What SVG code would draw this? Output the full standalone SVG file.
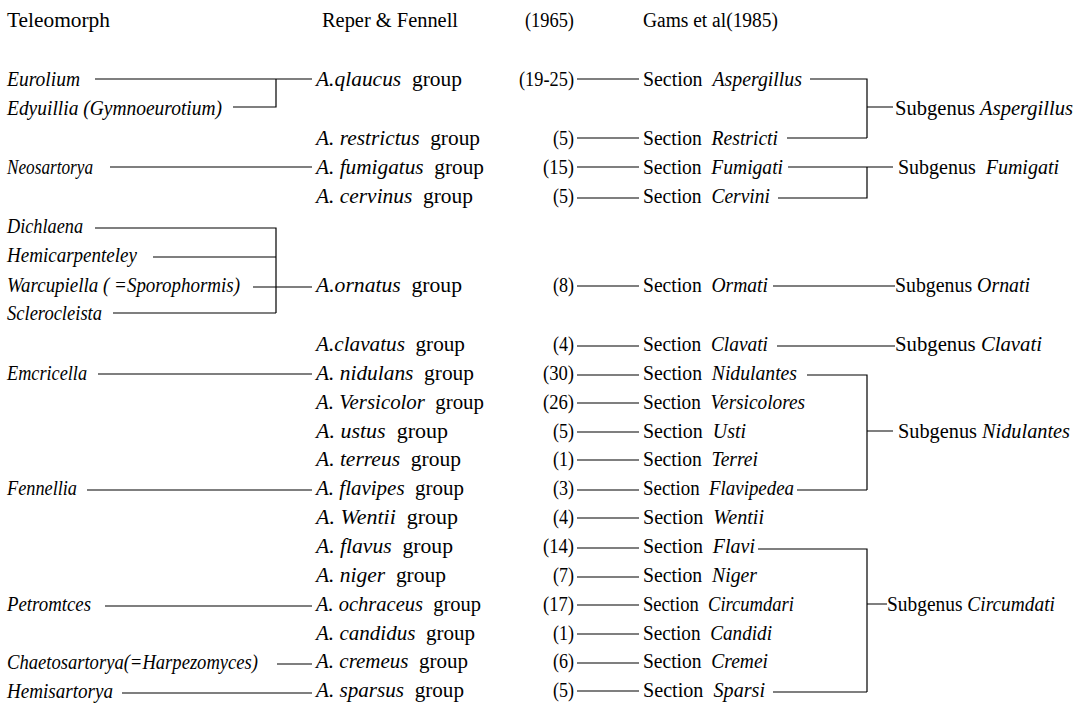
<svg xmlns="http://www.w3.org/2000/svg" width="1084" height="706" viewBox="0 0 1084 706">
<style>
text { font-family: "Liberation Serif", "Times New Roman", serif; font-size: 20px; fill: #000; }
.i { font-style: italic; }
.e { text-anchor: end; }
.conn path { stroke: #000; stroke-width: 1.2; fill: none; }
</style>
<rect width="1084" height="706" fill="#fff"/>

<g id="headers">
  <text x="7" y="27" textLength="103" lengthAdjust="spacingAndGlyphs">Teleomorph</text>
  <text x="322" y="27" textLength="136" lengthAdjust="spacingAndGlyphs">Reper &amp; Fennell</text>
  <text class="e" x="574" y="27" textLength="49" lengthAdjust="spacingAndGlyphs">(1965)</text>
  <text x="643" y="27" textLength="135" lengthAdjust="spacingAndGlyphs">Gams et al(1985)</text>
</g>

<g id="teleomorphs">
  <g id="t-eurolium"><text class="i" x="7" y="86" textLength="73" lengthAdjust="spacingAndGlyphs">Eurolium</text></g>
  <g id="t-edyuillia"><text class="i" x="7" y="115" textLength="215" lengthAdjust="spacingAndGlyphs">Edyuillia (Gymnoeurotium)</text></g>
  <g id="t-neosartorya"><text class="i" x="7" y="174" textLength="86" lengthAdjust="spacingAndGlyphs">Neosartorya</text></g>
  <g id="t-dichlaena"><text class="i" x="7" y="233" textLength="76" lengthAdjust="spacingAndGlyphs">Dichlaena</text></g>
  <g id="t-hemicarpenteley"><text class="i" x="7" y="262" textLength="130" lengthAdjust="spacingAndGlyphs">Hemicarpenteley</text></g>
  <g id="t-warcupiella"><text class="i" x="7" y="292" textLength="233" lengthAdjust="spacingAndGlyphs">Warcupiella ( =Sporophormis)</text></g>
  <g id="t-sclerocleista"><text class="i" x="7" y="320" textLength="95" lengthAdjust="spacingAndGlyphs">Sclerocleista</text></g>
  <g id="t-emcricella"><text class="i" x="7" y="380" textLength="80" lengthAdjust="spacingAndGlyphs">Emcricella</text></g>
  <g id="t-fennellia"><text class="i" x="7" y="495" textLength="70" lengthAdjust="spacingAndGlyphs">Fennellia</text></g>
  <g id="t-petromtces"><text class="i" x="7" y="611" textLength="84" lengthAdjust="spacingAndGlyphs">Petromtces</text></g>
  <g id="t-chaetosartorya"><text class="i" x="7" y="669" textLength="251" lengthAdjust="spacingAndGlyphs">Chaetosartorya(=Harpezomyces)</text></g>
  <g id="t-hemisartorya"><text class="i" x="7" y="698" textLength="106" lengthAdjust="spacingAndGlyphs">Hemisartorya</text></g>
</g>

<g id="groups">
  <g id="g-glaucus"><text x="316" y="86" textLength="146" lengthAdjust="spacingAndGlyphs"><tspan class="i">A.qlaucus</tspan>&#160; group</text></g>
  <g id="g-restrictus"><text x="316" y="145" textLength="164" lengthAdjust="spacingAndGlyphs"><tspan class="i">A. restrictus</tspan>&#160; group</text></g>
  <g id="g-fumigatus"><text x="316" y="174" textLength="168" lengthAdjust="spacingAndGlyphs"><tspan class="i">A. fumigatus</tspan>&#160; group</text></g>
  <g id="g-cervinus"><text x="316" y="203" textLength="157" lengthAdjust="spacingAndGlyphs"><tspan class="i">A. cervinus</tspan>&#160; group</text></g>
  <g id="g-ornatus"><text x="316" y="292" textLength="146" lengthAdjust="spacingAndGlyphs"><tspan class="i">A.ornatus</tspan>&#160; group</text></g>
  <g id="g-clavatus"><text x="316" y="351" textLength="149" lengthAdjust="spacingAndGlyphs"><tspan class="i">A.clavatus</tspan>&#160; group</text></g>
  <g id="g-nidulans"><text x="316" y="380" textLength="158" lengthAdjust="spacingAndGlyphs"><tspan class="i">A. nidulans</tspan>&#160; group</text></g>
  <g id="g-versicolor"><text x="316" y="409" textLength="168" lengthAdjust="spacingAndGlyphs"><tspan class="i">A. Versicolor</tspan>&#160; group</text></g>
  <g id="g-ustus"><text x="316" y="438" textLength="132" lengthAdjust="spacingAndGlyphs"><tspan class="i">A. ustus</tspan>&#160; group</text></g>
  <g id="g-terreus"><text x="316" y="466" textLength="145" lengthAdjust="spacingAndGlyphs"><tspan class="i">A. terreus</tspan>&#160; group</text></g>
  <g id="g-flavipes"><text x="316" y="495" textLength="148" lengthAdjust="spacingAndGlyphs"><tspan class="i">A. flavipes</tspan>&#160; group</text></g>
  <g id="g-wentii"><text x="316" y="524" textLength="142" lengthAdjust="spacingAndGlyphs"><tspan class="i">A. Wentii</tspan>&#160; group</text></g>
  <g id="g-flavus"><text x="316" y="553" textLength="137" lengthAdjust="spacingAndGlyphs"><tspan class="i">A. flavus</tspan>&#160; group</text></g>
  <g id="g-niger"><text x="316" y="582" textLength="130" lengthAdjust="spacingAndGlyphs"><tspan class="i">A. niger</tspan>&#160; group</text></g>
  <g id="g-ochraceus"><text x="316" y="611" textLength="165" lengthAdjust="spacingAndGlyphs"><tspan class="i">A. ochraceus</tspan>&#160; group</text></g>
  <g id="g-candidus"><text x="316" y="640" textLength="159" lengthAdjust="spacingAndGlyphs"><tspan class="i">A. candidus</tspan>&#160; group</text></g>
  <g id="g-cremeus"><text x="316" y="668" textLength="152" lengthAdjust="spacingAndGlyphs"><tspan class="i">A. cremeus</tspan>&#160; group</text></g>
  <g id="g-sparsus"><text x="316" y="697" textLength="148" lengthAdjust="spacingAndGlyphs"><tspan class="i">A. sparsus</tspan>&#160; group</text></g>
</g>

<g id="counts">
  <text class="e" x="574" y="86" textLength="55" lengthAdjust="spacingAndGlyphs">(19-25)</text>
  <text class="e" x="574" y="145" textLength="21" lengthAdjust="spacingAndGlyphs">(5)</text>
  <text class="e" x="574" y="174" textLength="31" lengthAdjust="spacingAndGlyphs">(15)</text>
  <text class="e" x="574" y="203" textLength="21" lengthAdjust="spacingAndGlyphs">(5)</text>
  <text class="e" x="574" y="292" textLength="21" lengthAdjust="spacingAndGlyphs">(8)</text>
  <text class="e" x="574" y="351" textLength="21" lengthAdjust="spacingAndGlyphs">(4)</text>
  <text class="e" x="574" y="380" textLength="31" lengthAdjust="spacingAndGlyphs">(30)</text>
  <text class="e" x="574" y="409" textLength="31" lengthAdjust="spacingAndGlyphs">(26)</text>
  <text class="e" x="574" y="438" textLength="21" lengthAdjust="spacingAndGlyphs">(5)</text>
  <text class="e" x="574" y="466" textLength="21" lengthAdjust="spacingAndGlyphs">(1)</text>
  <text class="e" x="574" y="495" textLength="21" lengthAdjust="spacingAndGlyphs">(3)</text>
  <text class="e" x="574" y="524" textLength="21" lengthAdjust="spacingAndGlyphs">(4)</text>
  <text class="e" x="574" y="553" textLength="31" lengthAdjust="spacingAndGlyphs">(14)</text>
  <text class="e" x="574" y="582" textLength="21" lengthAdjust="spacingAndGlyphs">(7)</text>
  <text class="e" x="574" y="611" textLength="31" lengthAdjust="spacingAndGlyphs">(17)</text>
  <text class="e" x="574" y="640" textLength="21" lengthAdjust="spacingAndGlyphs">(1)</text>
  <text class="e" x="574" y="668" textLength="21" lengthAdjust="spacingAndGlyphs">(6)</text>
  <text class="e" x="574" y="697" textLength="21" lengthAdjust="spacingAndGlyphs">(5)</text>
</g>

<g id="sections">
  <g id="s-aspergillus"><text x="643" y="86" textLength="159" lengthAdjust="spacingAndGlyphs">Section&#160; <tspan class="i">Aspergillus</tspan></text></g>
  <g id="s-restricti"><text x="643" y="145" textLength="135" lengthAdjust="spacingAndGlyphs">Section&#160; <tspan class="i">Restricti</tspan></text></g>
  <g id="s-fumigati"><text x="643" y="174" textLength="140" lengthAdjust="spacingAndGlyphs">Section&#160; <tspan class="i">Fumigati</tspan></text></g>
  <g id="s-cervini"><text x="643" y="203" textLength="127" lengthAdjust="spacingAndGlyphs">Section&#160; <tspan class="i">Cervini</tspan></text></g>
  <g id="s-ormati"><text x="643" y="292" textLength="125" lengthAdjust="spacingAndGlyphs">Section&#160; <tspan class="i">Ormati</tspan></text></g>
  <g id="s-clavati"><text x="643" y="351" textLength="125" lengthAdjust="spacingAndGlyphs">Section&#160; <tspan class="i">Clavati</tspan></text></g>
  <g id="s-nidulantes"><text x="643" y="380" textLength="154" lengthAdjust="spacingAndGlyphs">Section&#160; <tspan class="i">Nidulantes</tspan></text></g>
  <g id="s-versicolores"><text x="643" y="409" textLength="162" lengthAdjust="spacingAndGlyphs">Section&#160; <tspan class="i">Versicolores</tspan></text></g>
  <g id="s-usti"><text x="643" y="438" textLength="103" lengthAdjust="spacingAndGlyphs">Section&#160; <tspan class="i">Usti</tspan></text></g>
  <g id="s-terrei"><text x="643" y="466" textLength="115" lengthAdjust="spacingAndGlyphs">Section&#160; <tspan class="i">Terrei</tspan></text></g>
  <g id="s-flavipedea"><text x="643" y="495" textLength="151" lengthAdjust="spacingAndGlyphs">Section&#160; <tspan class="i">Flavipedea</tspan></text></g>
  <g id="s-wentii"><text x="643" y="524" textLength="121" lengthAdjust="spacingAndGlyphs">Section&#160; <tspan class="i">Wentii</tspan></text></g>
  <g id="s-flavi"><text x="643" y="553" textLength="112" lengthAdjust="spacingAndGlyphs">Section&#160; <tspan class="i">Flavi</tspan></text></g>
  <g id="s-niger"><text x="643" y="582" textLength="114" lengthAdjust="spacingAndGlyphs">Section&#160; <tspan class="i">Niger</tspan></text></g>
  <g id="s-circumdari"><text x="643" y="611" textLength="151" lengthAdjust="spacingAndGlyphs">Section&#160; <tspan class="i">Circumdari</tspan></text></g>
  <g id="s-candidi"><text x="643" y="640" textLength="129" lengthAdjust="spacingAndGlyphs">Section&#160; <tspan class="i">Candidi</tspan></text></g>
  <g id="s-cremei"><text x="643" y="668" textLength="125" lengthAdjust="spacingAndGlyphs">Section&#160; <tspan class="i">Cremei</tspan></text></g>
  <g id="s-sparsi"><text x="643" y="697" textLength="122" lengthAdjust="spacingAndGlyphs">Section&#160; <tspan class="i">Sparsi</tspan></text></g>
</g>

<g id="subgenera">
  <g id="sg-aspergillus"><text x="895" y="115" textLength="178" lengthAdjust="spacingAndGlyphs">Subgenus <tspan class="i">Aspergillus</tspan></text></g>
  <g id="sg-fumigati"><text x="898" y="174" textLength="161" lengthAdjust="spacingAndGlyphs">Subgenus&#160; <tspan class="i">Fumigati</tspan></text></g>
  <g id="sg-ornati"><text x="895" y="292" textLength="135" lengthAdjust="spacingAndGlyphs">Subgenus <tspan class="i">Ornati</tspan></text></g>
  <g id="sg-clavati"><text x="895" y="351" textLength="147" lengthAdjust="spacingAndGlyphs">Subgenus <tspan class="i">Clavati</tspan></text></g>
  <g id="sg-nidulantes"><text x="898" y="438" textLength="172" lengthAdjust="spacingAndGlyphs">Subgenus <tspan class="i">Nidulantes</tspan></text></g>
  <g id="sg-circumdati"><text x="887" y="611" textLength="168" lengthAdjust="spacingAndGlyphs">Subgenus <tspan class="i">Circumdati</tspan></text></g>
</g>

<g id="connectors" class="conn">
  <path d="M95,79 H312 M233,107 H276 V79"/>
  <path d="M110,167 H312"/>
  <path d="M95,228 H276 V313 M153,257 H276 M253,287 H312 M113,313 H276"/>
  <path d="M98,374 H312"/>
  <path d="M87,490 H312"/>
  <path d="M105,606 H312"/>
  <path d="M277,664 H312"/>
  <path d="M122,693 H312"/>

  <path d="M577,79 H639 M577,138 H639 M577,167 H639 M577,198 H639 M577,286 H639 M577,346 H639 M577,375 H639 M577,403 H639 M577,432 H639 M577,460 H639 M577,490 H639 M577,518 H639 M577,548 H639 M577,577 H639 M577,605 H639 M577,634 H639 M577,663 H639 M577,691 H639"/>

  <path d="M810,79 H867 V138 M787,138 H867 M867,107 H893"/>
  <path d="M788,167 H893 M778,198 H867 V167"/>
  <path d="M773,286 H895"/>
  <path d="M777,346 H895"/>
  <path d="M807,375 H867 V490 M797,490 H867 M867,431 H893"/>
  <path d="M758,549 H867 V692 M773,692 H867 M867,604 H887"/>
</g>
</svg>
